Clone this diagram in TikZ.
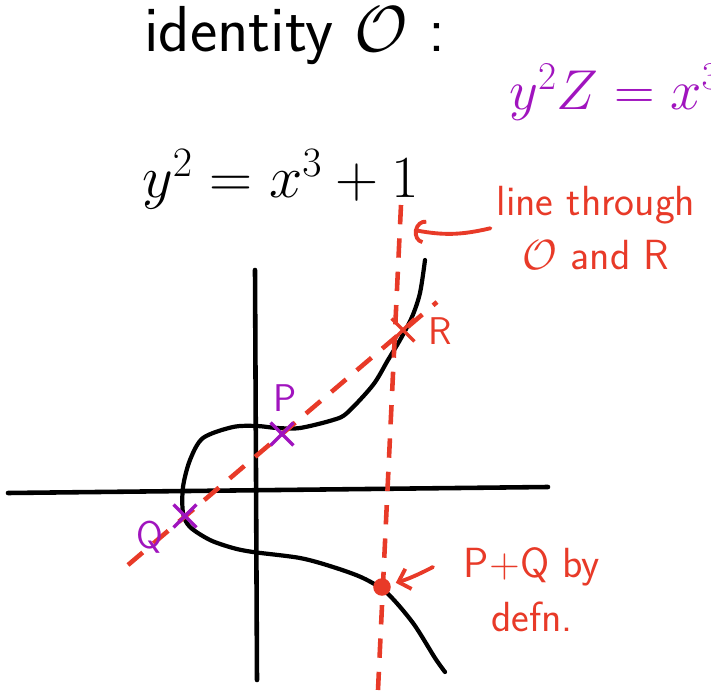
\RequirePackage{fix-cm}
\documentclass[tikz,border=0pt]{standalone}
\usepackage{amsmath}
\usepackage{amssymb}
\usepackage{tikz}
\usepackage{xcolor}
\usetikzlibrary{arrows.meta,shapes.misc}

\definecolor{penred}{RGB}{232,58,40}
\definecolor{penpurple}{RGB}{160,20,190}

\begin{document}
\begin{tikzpicture}[x=0.02cm, y=-0.02cm,
    axis_style/.style={line width=2.6pt, black, line cap=round},
    curve_style/.style={line width=2.4pt, black, line cap=round, line join=round},
    chord_style/.style={penred, line width=2.6pt, dash pattern=on 11pt off 8pt},
    mark_style/.style={cross out, draw, line width=2pt, minimum size=11pt, inner sep=0pt},
    label_style/.style={font=\sffamily\fontsize{22}{24}\selectfont},
    note_style/.style={penred, font=\sffamily\fontsize{24}{31}\selectfont, align=center},
    pointer_style/.style={penred, line width=2.2pt, line cap=round}
]
    % Frame of the page
    \useasboundingbox (0,0) rectangle (711,696);
    \clip (0,0) rectangle (711,696);

    % Headings
    \node[anchor=base west, font=\sffamily\fontsize{37}{40}\selectfont] (title) at (138,52) {identity $\mathcal{O}$ :};
    \node[anchor=base west, penpurple, font=\fontsize{32}{36}\selectfont] (proj_eq) at (503,110) {$y^2Z=x^3$};
    \node[anchor=base west, font=\fontsize{34}{38}\selectfont] (curve_eq) at (136,198) {$y^2= x^3+ 1$};

    % Axes
    \coordinate (x_start) at (8,493);
    \coordinate (x_end) at (548,487);
    \coordinate (y_start) at (255,270);
    \coordinate (y_end) at (257,680);
    \draw[axis_style] (x_start) -- (x_end);
    \draw[axis_style] (y_start) -- (y_end);

    % The curve y^2 = x^3 + 1
    \draw[curve_style] plot[smooth] coordinates {
        (425,260) (420,293) (412,317) (400,340) (388,360) (373,385) (347,413)
        (333,420) (300,428) (277,428) (257,426) (233,427) (203,438) (190,460)
        (183,487) (183,513) (190,527) (210,540) (233,548) (253,552) (300,558)
        (333,567) (363,578) (387,593) (413,623) (435,658) (445,672)};

    % Line through P and Q, meeting the curve again at R
    \coordinate (chord_start) at (128,565);
    \coordinate (chord_end) at (437,302);
    \draw[chord_style] (chord_start) -- (chord_end);

    % Vertical line through O and R
    \coordinate (vert_top) at (401,205);
    \coordinate (vert_bottom) at (378,690);
    \draw[chord_style] (vert_top) -- (vert_bottom);

    % Points
    \node[mark_style, penpurple] (p_mark) at (282,434) {};
    \node[mark_style, penpurple] (q_mark) at (185,516) {};
    \node[mark_style, penred] (r_mark) at (403,330) {};
    \node[circle, fill=penred, inner sep=0pt, minimum size=10pt] (sum_point) at (382,587) {};

    \node[label_style, penpurple] (p_label) at (285,398) {P};
    \node[label_style, penpurple] (q_label) at (150,537) {Q};
    \node[label_style, penred] (r_label) at (440,331) {R};

    % Notes
    \node[note_style, anchor=north] (line_note) at (596,180) {line through\\ $\mathcal{O}$ and R};
    \node[note_style, anchor=north] (sum_note) at (532,541) {P+Q by\\ defn.};

    \coordinate (line_target) at (414,230);
    \draw[pointer_style, -{Arc Barb[length=6pt, width=14pt]}] (line_note.west) to[bend left=12] (line_target);

    \coordinate (sum_start) at (433,567);
    \draw[pointer_style, -{Straight Barb[length=6pt, width=12pt]}, shorten >=3pt] (sum_start) to[bend left=5] (sum_point);

\end{tikzpicture}
\end{document}
